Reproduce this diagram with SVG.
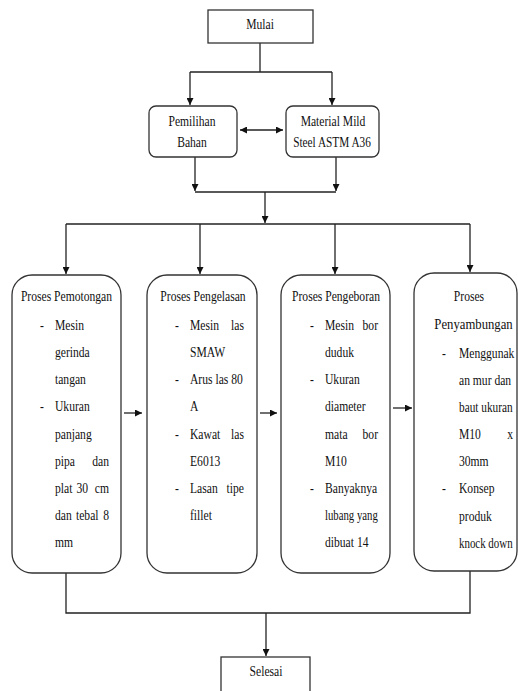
<svg xmlns="http://www.w3.org/2000/svg" width="518" height="691" viewBox="0 0 518 691">
<style>
.bg{fill:#fff}
.box{fill:#fff;stroke:#333;stroke-width:1.3}
.ln{fill:none;stroke:#222;stroke-width:1.3}
.t{font-family:"Liberation Serif","Times New Roman",serif;font-size:14.5px;fill:#111}
.m{text-anchor:middle}
.e{text-anchor:end}
</style>
<defs>
<marker id="ah" markerUnits="userSpaceOnUse" markerWidth="8" markerHeight="7" refX="7" refY="3.5" orient="auto-start-reverse">
<path d="M0,0 L7,3.5 L0,7 z" fill="#111"/>
</marker>
</defs>
<rect class="bg" x="0" y="0" width="518" height="691"/>

<g id="connectors">
<polyline class="ln" points="260,43 260,72"/>
<polyline class="ln" points="190,72 332,72"/>
<line class="ln" x1="190" y1="72" x2="190" y2="105" marker-end="url(#ah)"/>
<line class="ln" x1="332" y1="72" x2="332" y2="105" marker-end="url(#ah)"/>
<line class="ln" x1="240" y1="130" x2="283" y2="130" marker-start="url(#ah)" marker-end="url(#ah)"/>
<line class="ln" x1="195" y1="157" x2="195" y2="191" marker-end="url(#ah)"/>
<line class="ln" x1="336" y1="157" x2="336" y2="191" marker-end="url(#ah)"/>
<polyline class="ln" points="195,192 336,192"/>
<line class="ln" x1="265" y1="192" x2="265" y2="223" marker-end="url(#ah)"/>
<polyline class="ln" points="66,224 470,224"/>
<line class="ln" x1="66" y1="224" x2="66" y2="274" marker-end="url(#ah)"/>
<line class="ln" x1="200" y1="224" x2="200" y2="274" marker-end="url(#ah)"/>
<line class="ln" x1="335" y1="224" x2="335" y2="274" marker-end="url(#ah)"/>
<line class="ln" x1="470" y1="224" x2="470" y2="272" marker-end="url(#ah)"/>
<line class="ln" x1="124" y1="413" x2="142" y2="413" marker-end="url(#ah)"/>
<line class="ln" x1="260" y1="413" x2="277" y2="413" marker-end="url(#ah)"/>
<line class="ln" x1="393" y1="408" x2="412" y2="408" marker-end="url(#ah)"/>
<polyline class="ln" points="66,573 66,613 470,613 470,571"/>
<line class="ln" x1="266" y1="613" x2="266" y2="656" marker-end="url(#ah)"/>
</g>

<g id="mulai">
<rect class="box" x="208" y="10" width="105" height="33"/>
<text class="t m" transform="translate(260 29) scale(.8 1)">Mulai</text>
</g>

<g id="pemilihan">
<rect class="box" x="149" y="106" width="88" height="51" rx="7"/>
<text class="t m" transform="translate(192 126) scale(.8 1)">Pemilihan</text>
<text class="t m" transform="translate(192 147) scale(.8 1)">Bahan</text>
</g>

<g id="material">
<rect class="box" x="286" y="106" width="93" height="51" rx="7"/>
<text class="t m" transform="translate(333 126) scale(.8 1)">Material Mild</text>
<text class="t m" transform="translate(332 147) scale(.8 1)" textLength="97" lengthAdjust="spacingAndGlyphs">Steel ASTM A36</text>
</g>

<g id="pemotongan">
<rect class="box" x="12" y="275" width="109" height="298" rx="20"/>
<text class="t m" transform="translate(66.5 301) scale(.8 1)">Proses Pemotongan</text>
<text class="t m" transform="translate(42 330) scale(.8 1)">-</text>
<text class="t" transform="translate(55 330) scale(.8 1)">Mesin</text>
<text class="t" transform="translate(55 357) scale(.8 1)">gerinda</text>
<text class="t" transform="translate(55 384) scale(.8 1)">tangan</text>
<text class="t m" transform="translate(42 411) scale(.8 1)">-</text>
<text class="t" transform="translate(55 411) scale(.8 1)">Ukuran</text>
<text class="t" transform="translate(55 439) scale(.8 1)">panjang</text>
<text class="t" transform="translate(55 466) scale(.8 1)">pipa</text>
<text class="t e" transform="translate(109 466) scale(.8 1)">dan</text>
<text class="t" transform="translate(55 493) scale(.8 1)">plat</text>
<text class="t" transform="translate(76.5 493) scale(.8 1)">30</text>
<text class="t e" transform="translate(109 493) scale(.8 1)">cm</text>
<text class="t" transform="translate(55 520) scale(.8 1)">dan</text>
<text class="t" transform="translate(76 520) scale(.8 1)">tebal</text>
<text class="t e" transform="translate(109 520) scale(.8 1)">8</text>
<text class="t" transform="translate(55 547) scale(.8 1)">mm</text>
</g>

<g id="pengelasan">
<rect class="box" x="147" y="275" width="110" height="298" rx="20"/>
<text class="t m" transform="translate(203 301) scale(.8 1)">Proses Pengelasan</text>
<text class="t m" transform="translate(177 330) scale(.8 1)">-</text>
<text class="t" transform="translate(190 330) scale(.8 1)">Mesin</text>
<text class="t e" transform="translate(244 330) scale(.8 1)">las</text>
<text class="t" transform="translate(190 357) scale(.8 1)">SMAW</text>
<text class="t m" transform="translate(177 384) scale(.8 1)">-</text>
<text class="t" transform="translate(190 384) scale(.8 1)">Arus las 80</text>
<text class="t" transform="translate(190 411) scale(.8 1)">A</text>
<text class="t m" transform="translate(177 439) scale(.8 1)">-</text>
<text class="t" transform="translate(190 439) scale(.8 1)">Kawat</text>
<text class="t e" transform="translate(244 439) scale(.8 1)">las</text>
<text class="t" transform="translate(190 466) scale(.8 1)">E6013</text>
<text class="t m" transform="translate(177 493) scale(.8 1)">-</text>
<text class="t" transform="translate(190 493) scale(.8 1)">Lasan</text>
<text class="t e" transform="translate(244 493) scale(.8 1)">tipe</text>
<text class="t" transform="translate(190 520) scale(.8 1)">fillet</text>
</g>

<g id="pengeboran">
<rect class="box" x="281" y="275" width="109" height="298" rx="20"/>
<text class="t m" transform="translate(336 301) scale(.8 1)">Proses Pengeboran</text>
<text class="t m" transform="translate(312 330) scale(.8 1)">-</text>
<text class="t" transform="translate(325 330) scale(.8 1)">Mesin</text>
<text class="t e" transform="translate(378 330) scale(.8 1)">bor</text>
<text class="t" transform="translate(325 357) scale(.8 1)">duduk</text>
<text class="t m" transform="translate(312 384) scale(.8 1)">-</text>
<text class="t" transform="translate(325 384) scale(.8 1)">Ukuran</text>
<text class="t" transform="translate(325 411) scale(.8 1)">diameter</text>
<text class="t" transform="translate(325 439) scale(.8 1)">mata</text>
<text class="t e" transform="translate(378 439) scale(.8 1)">bor</text>
<text class="t" transform="translate(325 466) scale(.8 1)">M10</text>
<text class="t m" transform="translate(312 493) scale(.8 1)">-</text>
<text class="t" transform="translate(325 493) scale(.8 1)">Banyaknya</text>
<text class="t" transform="translate(325 520) scale(.8 1)" textLength="66" lengthAdjust="spacingAndGlyphs">lubang yang</text>
<text class="t" transform="translate(325 547) scale(.8 1)">dibuat 14</text>
</g>

<g id="penyambungan">
<rect class="box" x="414" y="273" width="103" height="298" rx="20"/>
<text class="t m" transform="translate(469 301) scale(.8 1)">Proses</text>
<text class="t m" transform="translate(473.5 329) scale(.8 1)" textLength="98" lengthAdjust="spacingAndGlyphs">Penyambungan</text>
<text class="t m" transform="translate(444 358) scale(.8 1)">-</text>
<text class="t" transform="translate(459 358) scale(.8 1)">Menggunak</text>
<text class="t" transform="translate(459 385) scale(.8 1)">an mur dan</text>
<text class="t" transform="translate(459 412) scale(.8 1)" textLength="67" lengthAdjust="spacingAndGlyphs">baut ukuran</text>
<text class="t" transform="translate(459 439) scale(.8 1)">M10</text>
<text class="t e" transform="translate(513 439) scale(.8 1)">x</text>
<text class="t" transform="translate(459 466) scale(.8 1)">30mm</text>
<text class="t m" transform="translate(444 493) scale(.8 1)">-</text>
<text class="t" transform="translate(459 493) scale(.8 1)">Konsep</text>
<text class="t" transform="translate(459 521) scale(.8 1)">produk</text>
<text class="t" transform="translate(459 548) scale(.8 1)" textLength="67" lengthAdjust="spacingAndGlyphs">knock down</text>
</g>

<g id="selesai">
<rect class="box" x="221" y="657" width="89" height="50"/>
<text class="t m" transform="translate(266 676) scale(.8 1)">Selesai</text>
</g>
</svg>
